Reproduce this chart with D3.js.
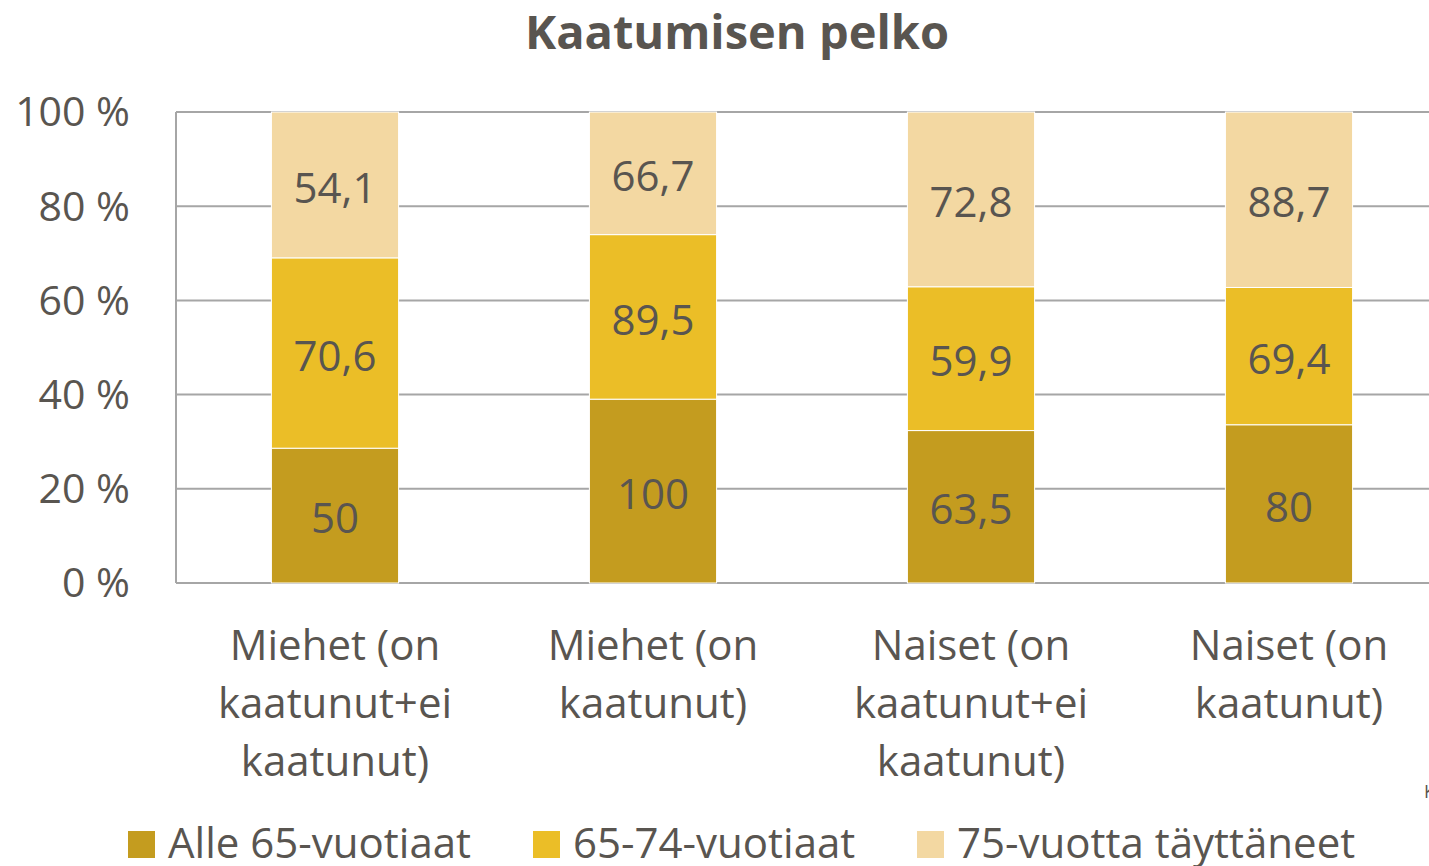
<!DOCTYPE html>
<html>
<head>
<meta charset="utf-8">
<script src="https://cdn.jsdelivr.net/npm/d3@7"></script>
<style>
  body { margin: 0; background: #fff; }
  text { font-family: "Open Sans", "Noto Sans", sans-serif; fill: #595550; }
</style>
</head>
<body>
<div id="chart-area"></div>
<script>
var categories = [
    ["Miehet (on", "kaatunut+ei", "kaatunut)"],
    ["Miehet (on", "kaatunut)"],
    ["Naiset (on", "kaatunut+ei", "kaatunut)"],
    ["Naiset (on", "kaatunut)"]
];
var seriesNames = ["Alle 65-vuotiaat", "65-74-vuotiaat", "75-vuotta täyttäneet"];
var alle65 = [50, 100, 63.5, 80];
var v65_74 = [70.6, 89.5, 59.9, 69.4];
var v75 = [54.1, 66.7, 72.8, 88.7];
var yTicks = [0, 20, 40, 60, 80, 100];
var colors = ["#C49C1F", "#EBBE27", "#F3D8A2"];

var width = 1429, height = 866;
var plotLeft = 176, plotRight = 1448, plotTop = 112, plotBottom = 583;

var svg = d3.select("#chart-area").append("svg")
    .attr("width", width)
    .attr("height", height);

var keys = categories.map((c, i) => i);
var rows = keys.map((i) => {
    return {cat: i, s0: alle65[i], s1: v65_74[i], s2: v75[i]};
});

var x = d3.scaleBand()
    .domain(keys)
    .range([plotLeft, plotRight])
    .paddingInner(0.6)
    .paddingOuter(0.3);

var y = d3.scaleLinear()
    .domain([0, 100])
    .range([plotBottom, plotTop]);

// gridlines
svg.selectAll("line.grid").data(yTicks)
    .enter().append("line")
        .attr("x1", plotLeft)
        .attr("x2", width)
        .attr("y1", (d) => y(d))
        .attr("y2", (d) => y(d))
        .attr("stroke", "#A6A6A6")
        .attr("stroke-width", 2);

svg.append("line")
    .attr("x1", plotLeft).attr("x2", plotLeft)
    .attr("y1", plotTop).attr("y2", plotBottom)
    .attr("stroke", "#A6A6A6")
    .attr("stroke-width", 2);

// y labels
svg.selectAll("text.ytick").data(yTicks)
    .enter().append("text")
        .attr("x", 130)
        .attr("y", (d) => y(d))
        .attr("dy", "0.35em")
        .attr("text-anchor", "end")
        .attr("font-size", 41)
        .text((d) => d + " %");

var stack = d3.stack()
    .keys(["s0", "s1", "s2"])
    .offset(d3.stackOffsetExpand);
var stacked = stack(rows);

var groups = svg.selectAll("g.series").data(stacked)
    .enter().append("g")
        .attr("fill", (d, i) => colors[i]);

groups.selectAll("rect").data((d) => d)
    .enter().append("rect")
        .attr("x", (d) => x(d.data.cat))
        .attr("width", x.bandwidth())
        .attr("y", (d) => y(d[1] * 100))
        .attr("height", (d) => y(d[0] * 100) - y(d[1] * 100))
        .attr("stroke", "#fff")
        .attr("stroke-width", 1);

groups.each(function(s) {
    d3.select(this).selectAll("text.val").data(s)
        .enter().append("text")
            .attr("x", (d) => x(d.data.cat) + x.bandwidth() / 2)
            .attr("y", (d) => y((d[0] + d[1]) / 2 * 100) + 3)
            .attr("dy", "0.35em")
            .attr("text-anchor", "middle")
            .attr("font-size", 42)
            .text((d) => String(d.data[s.key]).replace(".", ","));
});

// category labels
categories.forEach((lines, i) => {
    var t = svg.append("text")
        .attr("text-anchor", "middle")
        .attr("font-size", 42);
    lines.forEach((ln, j) => {
        t.append("tspan")
            .attr("x", x(i) + x.bandwidth() / 2)
            .attr("y", 660 + j * 58)
            .text(ln);
    });
});

// title
svg.append("text")
    .attr("x", 737)
    .attr("y", 49)
    .attr("text-anchor", "middle")
    .attr("font-size", 47)
    .attr("font-weight", "bold")
    .text("Kaatumisen pelko");

// legend
var legendX = [128, 533, 917];
seriesNames.forEach((name, i) => {
    svg.append("rect")
        .attr("x", legendX[i])
        .attr("y", 831)
        .attr("width", 27)
        .attr("height", 27)
        .attr("fill", colors[i]);
    svg.append("text")
        .attr("x", legendX[i] + 40)
        .attr("y", 858)
        .attr("font-size", 42)
        .text(name);
});

svg.append("text")
    .attr("x", 1424)
    .attr("y", 798)
    .attr("font-size", 18)
    .text("K");
</script>
</body>
</html>
